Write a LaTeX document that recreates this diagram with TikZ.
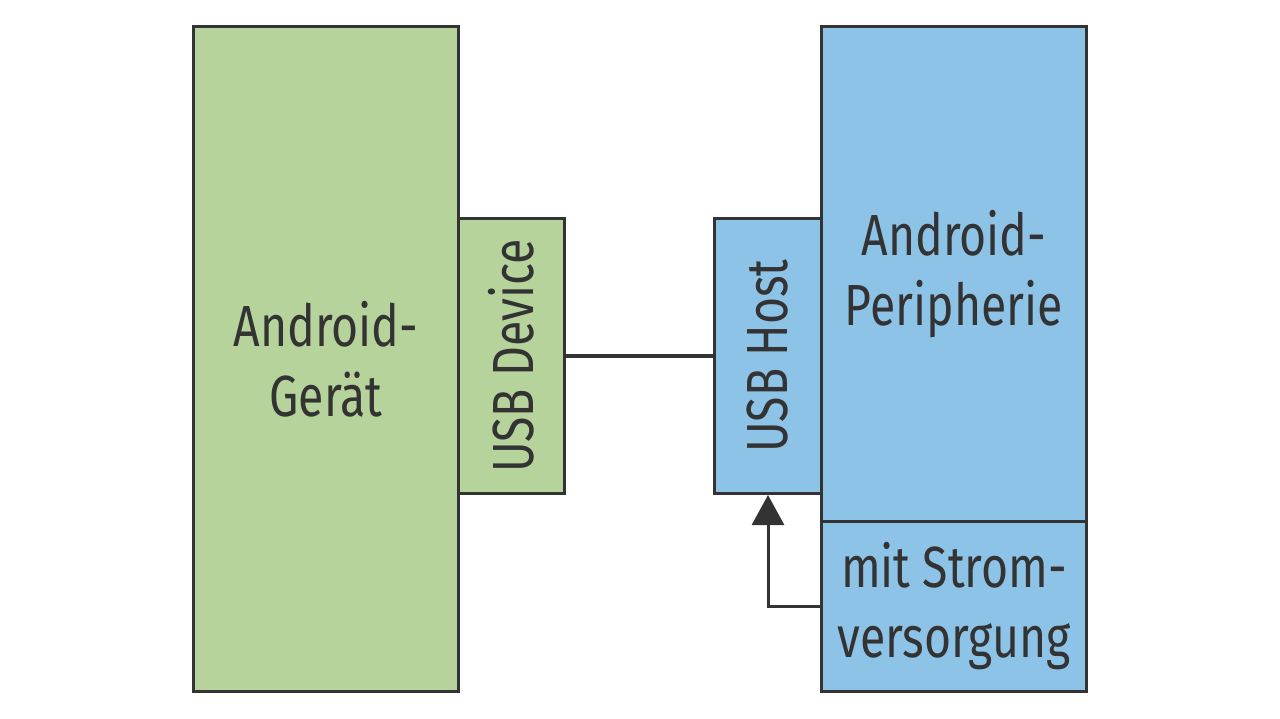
\documentclass[tikz,border=0pt]{standalone}
\usepackage{fontspec}
\setsansfont[FakeStretch=0.8]{Fira Sans}
\usepackage{xcolor}
\usetikzlibrary{positioning,arrows.meta}
\definecolor{geraetgreen}{HTML}{B5D39A}
\definecolor{periblue}{HTML}{8EC3E8}
\definecolor{linegray}{HTML}{333333}

\begin{document}
\begin{tikzpicture}[
					%Environment config
					x=1pt,y=-1pt,
					font=\sffamily\fontsize{58}{70}\selectfont,
					line width=3pt,
					%Environment styles
					BoxCfg/.style={
						draw=linegray,
						inner sep=0pt,
						anchor=north west,
						align=center,
						text=linegray
					},
					GreenBox/.style={BoxCfg,fill=geraetgreen},
					BlueBox/.style={BoxCfg,fill=periblue}
					]
					\useasboundingbox (0,0) rectangle (1280,719);
					\path
					(192,25) node[GreenBox,minimum width=265pt,minimum height=665pt](GERAET){Android-\\Ger\"at}
					(457,217) node[GreenBox,minimum width=106pt,minimum height=275pt](DEVICE){}
					(713,217) node[BlueBox,minimum width=107pt,minimum height=275pt](HOST){}
					(820,25) node[BlueBox,minimum width=265pt,minimum height=495pt](PERI){Android-\\Peripherie}
					(820,520) node[BlueBox,minimum width=265pt,minimum height=170pt](STROM){mit Strom-\\versorgung};
					\node[rotate=90,text=linegray] (DEVTXT) at (DEVICE.center) {USB Device};
					\node[rotate=90,text=linegray] (HOSTTXT) at (HOST.center) {USB Host};
					
					\draw[linegray]
					(DEVICE.east) -- (HOST.west);
					\draw[linegray,-{Triangle[length=30pt,width=32pt]}]
					(STROM.west) -| (HOST.south);
				\end{tikzpicture}
\end{document}
